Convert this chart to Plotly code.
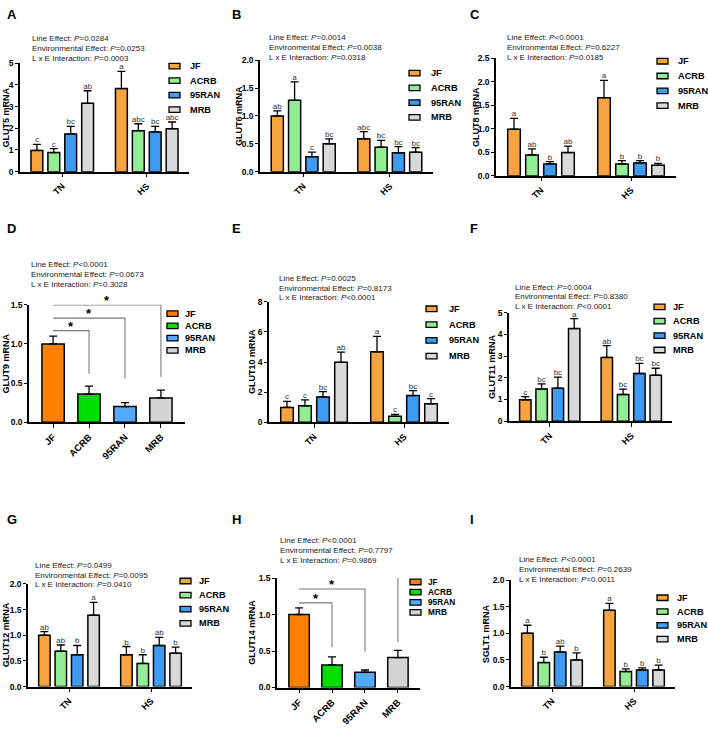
import plotly.graph_objects as go

W, H = 708, 729
FONT = "Liberation Sans, Arial, sans-serif"

lines = ["JF", "ACRB", "95RAN", "MRB"]
envs = ["TN", "HS"]

# grouped panels: values in the order JF, ACRB, 95RAN, MRB
glut5_tn = [0.98, 0.88, 1.74, 3.15]
glut5_hs = [3.83, 1.89, 1.83, 1.98]
glut5_tn_err = [0.28, 0.18, 0.35, 0.58]
glut5_hs_err = [0.79, 0.32, 0.26, 0.31]
glut5_tn_sig = ["c", "c", "bc", "ab"]
glut5_hs_sig = ["a", "abc", "bc", "abc"]
glut5_stats = ["=0.0284", "=0.0253", "=0.0003"]

glut6_tn = [1.0, 1.28, 0.27, 0.50]
glut6_hs = [0.59, 0.44, 0.34, 0.35]
glut6_tn_err = [0.09, 0.33, 0.08, 0.09]
glut6_hs_err = [0.13, 0.12, 0.11, 0.08]
glut6_tn_sig = ["ab", "a", "c", "bc"]
glut6_hs_sig = ["abc", "bc", "bc", "bc"]
glut6_stats = ["=0.0014", "=0.0038", "=0.0318"]

glut8_tn = [0.99, 0.44, 0.25, 0.49]
glut8_hs = [1.66, 0.25, 0.27, 0.22]
glut8_tn_err = [0.23, 0.13, 0.05, 0.14]
glut8_hs_err = [0.37, 0.07, 0.05, 0.04]
glut8_tn_sig = ["a", "ab", "b", "ab"]
glut8_hs_sig = ["a", "b", "b", "b"]
glut8_stats = ["<0.0001", "=0.6227", "=0.0185"]

glut9 = [1.0, 0.36, 0.20, 0.31]
glut9_err = [0.10, 0.10, 0.05, 0.10]
glut9_bracket_top = [1.17, 1.33, 1.50]
glut9_bracket_end = [0.62, 0.56, 0.58]
glut9_stats = ["<0.0001", "=0.0673", "=0.3028"]

glut10_tn = [0.98, 1.09, 1.68, 3.98]
glut10_hs = [4.68, 0.39, 1.77, 1.22]
glut10_tn_err = [0.40, 0.40, 0.35, 0.68]
glut10_hs_err = [1.02, 0.13, 0.33, 0.35]
glut10_tn_sig = ["c", "c", "bc", "ab"]
glut10_hs_sig = ["a", "c", "bc", "c"]
glut10_stats = ["=0.0025", "=0.8173", "<0.0001"]

glut11_tn = [0.99, 1.48, 1.52, 4.27]
glut11_hs = [2.94, 1.23, 2.20, 2.12]
glut11_tn_err = [0.14, 0.24, 0.51, 0.46]
glut11_hs_err = [0.54, 0.25, 0.47, 0.32]
glut11_tn_sig = ["c", "bc", "bc", "a"]
glut11_hs_sig = ["ab", "bc", "bc", "bc"]
glut11_stats = ["=0.0004", "=0.8380", "<0.0001"]

glut12_tn = [1.0, 0.69, 0.62, 1.39]
glut12_hs = [0.62, 0.45, 0.80, 0.65]
glut12_tn_err = [0.07, 0.12, 0.18, 0.25]
glut12_hs_err = [0.16, 0.17, 0.16, 0.12]
glut12_tn_sig = ["ab", "ab", "b", "a"]
glut12_hs_sig = ["b", "b", "ab", "b"]
glut12_stats = ["=0.0499", "=0.0095", "=0.0410"]

glut14 = [1.0, 0.31, 0.21, 0.41]
glut14_err = [0.09, 0.11, 0.03, 0.10]
glut14_bracket_top = [1.16, 1.35, 1.53]
glut14_bracket_end = [0.55, 0.49, 0.62]
glut14_stats = ["<0.0001", "=0.7797", "=0.9869"]

sglt1_tn = [1.0, 0.45, 0.65, 0.50]
sglt1_hs = [1.43, 0.28, 0.31, 0.31]
sglt1_tn_err = [0.15, 0.10, 0.11, 0.13]
sglt1_hs_err = [0.13, 0.05, 0.04, 0.09]
sglt1_tn_sig = ["a", "b", "ab", "b"]
sglt1_hs_sig = ["a", "b", "b", "b"]
sglt1_stats = ["<0.0001", "=0.2639", "=0.0011"]

light_colors = {"JF": "#F7A440", "ACRB": "#93EE93", "95RAN": "#3F9BF2", "MRB": "#D9D9D9"}
bright_colors = {"JF": "#FF8000", "ACRB": "#00E000", "95RAN": "#55A8FA", "MRB": "#D4D4D4"}
stat_names = ["Line Effect: ", "Environmental Effect: ", "L x E Interaction: "]


def px(x):
    return x / W


def py(y):
    return 1 - y / H


# pixel placement of each panel
panels = [
    dict(key="A", kind="group", data=(glut5_tn, glut5_hs, glut5_tn_err, glut5_hs_err, glut5_tn_sig, glut5_hs_sig),
         stats=glut5_stats, title="GLUT5 mRNA", box=(20, 189, 59, 169), ymax=5, dtick=1,
         letter=(5, 10), st=(30, 34), leg=(169, 188, 62, 14.7, 9.2), tx=6),
    dict(key="B", kind="group", data=(glut6_tn, glut6_hs, glut6_tn_err, glut6_hs_err, glut6_tn_sig, glut6_hs_sig),
         stats=glut6_stats, title="GLUT6 mRNA", box=(260, 433, 56, 169), ymax=2, dtick=0.5,
         letter=(230, 10), st=(267, 33), leg=(409, 429, 69, 15, 9.2), tx=239),
    dict(key="C", kind="group", data=(glut8_tn, glut8_hs, glut8_tn_err, glut8_hs_err, glut8_tn_sig, glut8_hs_sig),
         stats=glut8_stats, title="GLUT8 mRNA", box=(496, 676, 54, 173), ymax=2.5, dtick=0.5,
         letter=(468, 10), st=(505, 33), leg=(657, 676, 57, 15, 9.2), tx=476),
    dict(key="D", kind="single", data=(glut9, glut9_err, glut9_bracket_top, glut9_bracket_end),
         stats=glut9_stats, title="GLUT9 mRNA", box=(29, 185, 304, 423), ymax=1.5, dtick=0.5,
         letter=(5, 227), st=(29, 263), leg=(167, 183, 313, 12.4, 9.2), tx=6),
    dict(key="E", kind="group", data=(glut10_tn, glut10_hs, glut10_tn_err, glut10_hs_err, glut10_tn_sig, glut10_hs_sig),
         stats=glut10_stats, title="GLUT10 mRNA", box=(269, 449, 301, 423), ymax=8, dtick=2,
         letter=(230, 227), st=(277, 277), leg=(426, 447, 308, 16, 9.2), tx=252),
    dict(key="F", kind="group", data=(glut11_tn, glut11_hs, glut11_tn_err, glut11_hs_err, glut11_tn_sig, glut11_hs_sig),
         stats=glut11_stats, title="GLUT11 mRNA", box=(509, 672, 312, 422), ymax=5, dtick=1,
         letter=(468, 227), st=(513, 286), leg=(654, 671, 306, 14.6, 9.2), tx=492),
    dict(key="G", kind="group", data=(glut12_tn, glut12_hs, glut12_tn_err, glut12_hs_err, glut12_tn_sig, glut12_hs_sig),
         stats=glut12_stats, title="GLUT12 mRNA", box=(28, 192, 587, 691), ymax=2, dtick=0.5,
         letter=(5, 522), st=(33, 568), leg=(180, 197, 584, 14.3, 9.2), tx=6),
    dict(key="H", kind="single", data=(glut14, glut14_err, glut14_bracket_top, glut14_bracket_end),
         stats=glut14_stats, title="GLUT14 mRNA", box=(277, 420, 581, 692), ymax=1.5, dtick=0.5,
         letter=(230, 522), st=(278, 543), leg=(410, 426, 585, 10.3, 8.3), tx=252),
    dict(key="I", kind="group", data=(sglt1_tn, sglt1_hs, sglt1_tn_err, sglt1_hs_err, sglt1_tn_sig, sglt1_hs_sig),
         stats=sglt1_stats, title="SGLT1 mRNA", box=(511, 675, 583, 691), ymax=2, dtick=0.5,
         letter=(468, 522), st=(517, 562), leg=(657, 675, 601, 14, 9.2), tx=486),
]

fig = go.Figure()
shapes = []
annotations = []
layout_axes = {}

for i, p in enumerate(panels, start=1):
    xa, ya = f"x{i}", f"y{i}"
    x0, x1, yt, yb = p["box"]
    single = p["kind"] == "single"
    colors = bright_colors if single else light_colors

    if single:
        means, errs, btop, bend = p["data"]
        for j, ln in enumerate(lines):
            fig.add_trace(go.Bar(
                x=[ln], y=[means[j]], width=0.62, offsetgroup=p["key"],
                marker=dict(color=colors[ln], line=dict(color="black", width=1.5)),
                error_y=dict(type="data", array=[errs[j]], arrayminus=[0], symmetric=False,
                             color="black", thickness=1.3, width=4),
                xaxis=xa, yaxis=ya, showlegend=False))
        xrange = [-0.67, 3.67]
        cats = lines
        # significance brackets from JF to each other line
        for k in range(1, 4):
            lvl, end = btop[k - 1], bend[k - 1]
            shapes.append(dict(type="path", xref=xa, yref=ya,
                               path=f"M 0,{lvl} L {k},{lvl} L {k},{end}",
                               line=dict(color="#7a7a7a", width=1.1)))
            annotations.append(dict(text="<b>*</b>", xref=xa, yref=ya, x=k / 2, y=lvl,
                                    xanchor="center", yanchor="bottom", yshift=-5, showarrow=False,
                                    font=dict(family=FONT, size=13, color="black")))
    else:
        tn, hs, tn_err, hs_err, tn_sig, hs_sig = p["data"]
        for j, ln in enumerate(lines):
            fig.add_trace(go.Bar(
                x=envs, y=[tn[j], hs[j]],
                marker=dict(color=colors[ln], line=dict(color="black", width=1.5)),
                error_y=dict(type="data", array=[tn_err[j], hs_err[j]], arrayminus=[0, 0], symmetric=False,
                             color="black", thickness=1.3, width=4),
                xaxis=xa, yaxis=ya, showlegend=False))
        for j, ln in enumerate(lines):
            fig.add_trace(go.Scatter(
                x=envs, y=[tn[j] + tn_err[j], hs[j] + hs_err[j]], mode="text",
                text=[tn_sig[j], hs_sig[j]], textposition="top center",
                textfont=dict(family=FONT, size=8, color="#333333"),
                cliponaxis=False, xaxis=xa, yaxis=ya, showlegend=False))
        xrange = [-0.5, 1.5]
        cats = envs

    layout_axes[f"xaxis{i}"] = dict(
        domain=[px(x0), px(x1)], anchor=ya, type="category", categoryorder="array", categoryarray=cats,
        range=xrange, showline=True, linecolor="black", linewidth=1.5, ticks="outside",
        ticklen=4, tickwidth=1.3, tickcolor="black", tickangle=-45, showgrid=False, zeroline=False,
        tickfont=dict(family=FONT, size=9.5 if single else 9, color="black", weight="bold"))
    layout_axes[f"yaxis{i}"] = dict(
        domain=[py(yb), py(yt)], anchor=xa, range=[0, p["ymax"]], dtick=p["dtick"],
        showline=True, linecolor="black", linewidth=1.5, ticks="outside", ticklen=3, tickwidth=1.3,
        tickcolor="black", showgrid=False, zeroline=False,
        tickformat=".1f" if p["dtick"] < 1 else "d",
        tickfont=dict(family=FONT, size=8.5, color="black", weight="bold"))

    # panel letter
    lx, ly = p["letter"]
    annotations.append(dict(text="<b>" + p["key"] + "</b>", xref="paper", yref="paper",
                            x=px(lx), y=py(ly), xanchor="left", yanchor="middle", showarrow=False,
                            font=dict(family=FONT, size=13, color="black")))
    # statistics text
    sx, sy = p["st"]
    for k, name in enumerate(stat_names):
        annotations.append(dict(text=name + "<i>P</i>" + p["stats"][k], xref="paper", yref="paper",
                                x=px(sx), y=py(sy + 10 * k), xanchor="left", yanchor="middle",
                                showarrow=False, font=dict(family=FONT, size=8, color="#222222")))
    # y axis title
    annotations.append(dict(text="<b>" + p["title"] + "</b>", xref="paper", yref="paper",
                            x=px(p["tx"]), y=py((yt + yb) / 2), textangle=-90, xanchor="center",
                            yanchor="middle", showarrow=False,
                            font=dict(family=FONT, size=9, color="black")))
    # legend
    bx, tx, gy, gs, fs = p["leg"]
    for j, ln in enumerate(lines):
        yc = gy + j * gs
        shapes.append(dict(type="rect", xref="paper", yref="paper",
                           x0=px(bx), x1=px(bx + 11), y0=py(yc + 2.8), y1=py(yc - 2.8),
                           fillcolor=colors[ln], line=dict(color="black", width=1.3)))
        annotations.append(dict(text="<b>" + ln + "</b>", xref="paper", yref="paper",
                                x=px(tx), y=py(yc), xanchor="left", yanchor="middle", showarrow=False,
                                font=dict(family=FONT, size=fs, color="black")))

fig.update_layout(
    width=W, height=H, autosize=False,
    margin=dict(l=0, r=0, t=0, b=0),
    paper_bgcolor="white", plot_bgcolor="white",
    barmode="group", bargap=0.2, bargroupgap=0.3,
    scattermode="group",
    showlegend=False,
    shapes=shapes, annotations=annotations,
    font=dict(family=FONT),
    **layout_axes,
)

# drop the default 8px page margin so the figure fills the window exactly
fig.write_html("out.html", config={"displayModeBar": False},
               post_script="document.body.style.margin = '0';")
